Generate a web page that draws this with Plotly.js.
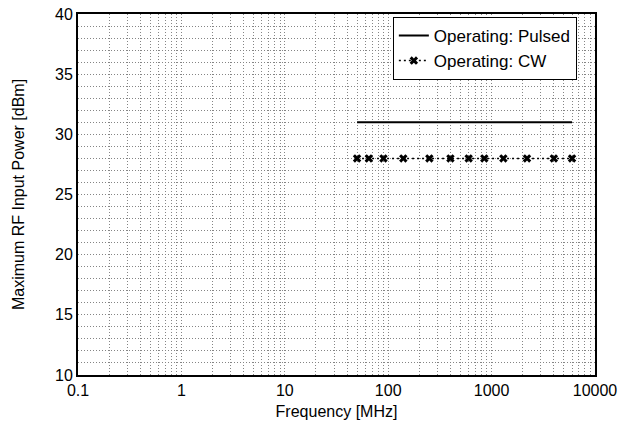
<!DOCTYPE html>
<html>
<head>
<meta charset="utf-8">
<script src="https://cdn.plot.ly/plotly-3.0.1.min.js"></script>
<style>html,body{margin:0;padding:0;background:#fff;}#chart{width:621px;height:427px;}</style>
</head>
<body>
<div id="chart"></div>
<script>
// Data
const pulsedFreq = [50, 6000];
const pulsedPower = [31, 31];
const cwFreq = [50, 65, 90, 140, 250, 400, 600, 850, 1300, 2200, 4000, 6000];
const cwPower = [28, 28, 28, 28, 28, 28, 28, 28, 28, 28, 28, 28];
const xTickVals = [0.1, 1, 10, 100, 1000, 10000];
const xTickText = ['0.1', '1', '10', '100', '1000', '10000'];
const yTickVals = [10, 15, 20, 25, 30, 35, 40];

const font = 'Liberation Sans, Arial, sans-serif';
const traces = [
  {x: pulsedFreq, y: pulsedPower, mode: 'lines', name: 'Operating: Pulsed',
   line: {color: '#000', width: 2}},
  {x: cwFreq, y: cwPower, mode: 'lines+markers', name: 'Operating: CW',
   line: {color: '#000', width: 1.5, dash: '2px,3px'},
   marker: {symbol: 'x', size: 7.5, color: '#000'}}
];
const gridCol = '#858585';
const gdash = '1px,2px';
const layout = {
  width: 621, height: 427,
  margin: {l: 78, r: 26, t: 14, b: 52},
  paper_bgcolor: '#fff', plot_bgcolor: '#fff',
  font: {family: font, size: 16, color: '#000'},
  showlegend: true,
  legend: {x: 0.609, xanchor: 'left', y: 0.992, yanchor: 'top',
    bgcolor: '#fff', bordercolor: '#000', borderwidth: 1,
    itemwidth: 30,
    font: {family: font, size: 17, color: '#000'}, tracegroupgap: 0},
  xaxis: {type: 'log', range: [-1, 4], tickvals: xTickVals, ticktext: xTickText,
    showgrid: true, gridcolor: gridCol, griddash: gdash, gridwidth: 1,
    minor: {dtick: 'D1', showgrid: true, gridcolor: gridCol, griddash: gdash, gridwidth: 1},
    showline: true, linecolor: '#000', linewidth: 2, mirror: true,
    ticks: '', zeroline: false,
    tickfont: {family: font, size: 16},
    title: {text: 'Frequency [MHz]', font: {family: font, size: 16}, standoff: 8}},
  yaxis: {range: [10, 40], tickvals: yTickVals,
    showgrid: true, gridcolor: gridCol, griddash: gdash, gridwidth: 1,
    minor: {dtick: 1, showgrid: true, gridcolor: gridCol, griddash: gdash, gridwidth: 1},
    showline: true, linecolor: '#000', linewidth: 2, mirror: true,
    ticks: '', zeroline: false,
    tickfont: {family: font, size: 16},
    title: {text: 'Maximum RF Input Power [dBm]', font: {family: font, size: 16}, standoff: 26}}
};
Plotly.newPlot('chart', traces, layout, {displayModeBar: false, staticPlot: true});
</script>
</body>
</html>
